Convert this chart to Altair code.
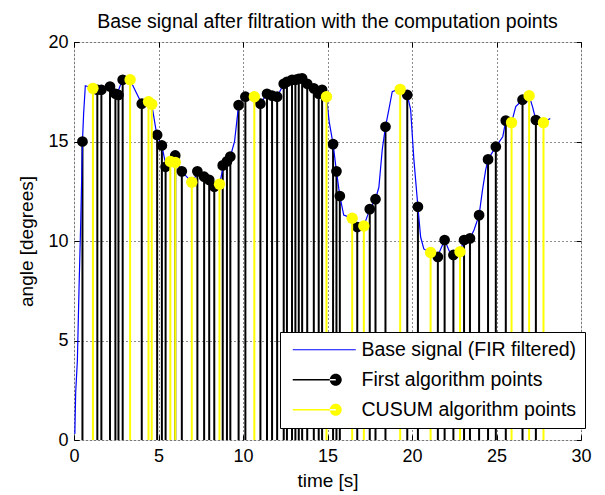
import altair as alt
import pandas as pd

# ---------------- data ----------------
base_t = [0.05, 0.1, 0.2, 0.3, 0.4, 0.5, 0.57, 0.67, 1.15, 1.54, 2.13, 2.53, 2.86, 3.32, 3.6,
          4.01, 4.41, 4.6, 4.9, 5.2, 5.45, 5.7, 5.99, 6.38, 6.97, 7.37, 7.77, 8.06, 8.36, 8.61,
          8.85, 9.25, 9.5, 9.74, 10.14, 10.67, 11.03, 11.42, 12.02, 12.41, 12.9, 13.4, 13.8,
          14.19, 14.68, 14.94, 15.1, 15.33, 15.53, 15.73, 15.96, 16.46, 16.76, 17.15, 17.5,
          17.84, 18.04, 18.24, 18.43, 18.63, 18.83, 19.26, 19.72, 19.92, 20.11, 20.35, 20.51,
          20.7, 21.1, 21.5, 21.93, 22.2, 22.45, 22.84, 23.08, 23.43, 23.67, 23.97, 24.17, 24.36,
          24.5, 24.96, 25.37, 25.55, 25.89, 26.14, 26.54, 26.93, 27.13, 27.33, 27.78, 28.18]
base_v = [0.3, 2.4, 4.0, 7.7, 11.0, 15.0, 16.4, 17.8, 17.67, 17.6, 17.76, 17.34, 18.1, 18.1, 17.6,
          16.9, 17.0, 16.87, 15.33, 14.8, 13.73, 14.0, 14.2, 13.5, 12.95, 13.5, 13.23, 13.07, 12.73, 12.85,
          13.8, 14.24, 15.0, 16.83, 17.25, 17.25, 16.9, 17.4, 17.25, 17.9, 18.1, 18.17, 17.9,
          17.67, 17.6, 17.25, 16.0, 14.87, 13.5, 12.26, 11.3, 11.14, 10.7, 10.75, 11.6,
          12.1, 12.7, 14.6, 15.74, 16.6, 17.5, 17.65, 17.34, 16.6, 14.1, 11.72, 10.2,
          9.6, 9.4, 9.2, 10.05, 9.5, 9.3, 9.46, 10.05, 10.13, 10.55, 11.3, 12.56, 13.57,
          14.1, 14.74, 15.24, 16.05, 15.95, 16.75, 17.1, 17.3, 16.75, 16.08, 15.95, 16.16]

first_t = [0.5, 1.38, 1.62, 2.13, 2.45, 2.63, 2.88, 4.01, 4.92, 5.2, 5.42, 5.99, 6.38, 7.3, 7.7,
           8.0, 8.3, 8.8, 9.05, 9.25, 9.74, 10.14, 11.03, 11.42, 11.72, 12.02, 12.41, 12.6, 12.9,
           13.1, 13.3, 13.5, 13.8, 14.19, 14.48, 14.68, 15.33, 15.53, 15.73, 16.76, 17.5, 17.84,
           18.43, 19.72, 20.35, 21.53, 21.93, 22.45, 23.08, 23.43, 23.97, 24.5, 24.96, 25.55,
           26.54, 27.33]
first_v = [15.0, 17.6, 17.6, 17.76, 17.4, 17.34, 18.1, 16.9, 15.33, 14.8, 13.73, 14.3, 13.5, 13.5, 13.23,
           13.07, 12.73, 13.8, 14.0, 14.24, 16.83, 17.25, 16.9, 17.4, 17.3, 17.25, 17.9, 18.0, 18.1,
           18.1, 18.15, 18.17, 17.9, 17.67, 17.4, 17.6, 14.87, 13.5, 12.26, 10.7, 11.6, 12.1,
           15.74, 17.34, 11.72, 9.2, 10.05, 9.3, 10.05, 10.13, 11.3, 14.1, 14.74, 16.05,
           17.1, 16.08]

cusum_t = [1.12, 3.32, 4.41, 4.6, 5.7, 5.99, 6.97, 8.61, 10.67, 14.94, 16.46, 17.15, 19.3,
           21.1, 22.84, 25.89, 26.93, 27.78]
cusum_v = [17.67, 18.1, 17.0, 16.87, 14.0, 13.95, 12.95, 12.85, 17.25, 17.25, 11.14, 10.75, 17.62,
           9.42, 9.46, 15.95, 17.3, 15.95]

series_names = ["Base signal (FIR filtered)", "First algorithm points", "CUSUM algorithm points"]
series_colors = ["#0000ff", "#000000", "#ffff00"]
x_ticks = [0, 5, 10, 15, 20, 25, 30]
y_ticks = [0, 5, 10, 15, 20]

FONT = "Liberation Sans"

base_df = pd.DataFrame({"t": base_t, "v": base_v, "series": series_names[0]})
first_df = pd.DataFrame({"t": first_t, "v": first_v, "series": series_names[1]})
cusum_df = pd.DataFrame({"t": cusum_t, "v": cusum_v, "series": series_names[2]})
# one (invisible) point of each series, used only to carry the legend glyphs
legend_df = pd.concat([base_df.head(1), first_df.head(1), cusum_df.head(1)], ignore_index=True)

x_scale = alt.Scale(domain=[0, 30], nice=False, zero=False)
y_scale = alt.Scale(domain=[0, 20], nice=False, zero=False)

# legend glyphs (unit path coordinates, scaled by sqrt(symbolSize)/2)
line_path = "M -1 -0.12 L 11.6 -0.12 L 11.6 0.12 L -1 0.12 Z"
dot_path = ("M -1 -0.15 L 7.6 -0.15 L 7.6 0.15 L -1 0.15 Z "
            "M 6.4 0 A 1.2 1.2 0 1 0 8.8 0 A 1.2 1.2 0 1 0 6.4 0 Z")

legend = alt.Legend(
    title=None, orient="none", legendX=206, legendY=290,
    fillColor="white", strokeColor="black", padding=8,
    labelFont=FONT, labelFontSize=19.5, labelColor="black", labelOffset=54,
    rowPadding=9, symbolSize=100, symbolStrokeWidth=0, symbolOpacity=1,
    labelLimit=400,
)
color = alt.Color("series:N", scale=alt.Scale(domain=series_names, range=series_colors), legend=legend)
shape_leg = alt.Shape("series:N", scale=alt.Scale(domain=series_names, range=[line_path, dot_path, dot_path]),
                      legend=legend)

x_main = alt.Axis(orient="bottom", values=x_ticks, format="d", grid=True, gridDash=[1, 3],
                  gridColor="black", gridOpacity=0.9, offset=-5, tickSize=5, tickColor="black",
                  domain=False, labelPadding=7, labelFont=FONT, labelFontSize=18, labelColor="black",
                  title="time [s]", titleFont=FONT, titleFontSize=19, titleFontWeight="normal",
                  titleColor="black", titlePadding=6, labelFlush=False)
y_main = alt.Axis(orient="left", values=y_ticks, format="d", grid=True, gridDash=[1, 3],
                  gridColor="black", gridOpacity=0.9, offset=-5, tickSize=5, tickColor="black",
                  domain=False, labelPadding=6, labelFont=FONT, labelFontSize=18, labelColor="black",
                  title="angle [degrees]", titleFont=FONT, titleFontSize=19, titleFontWeight="normal",
                  titleColor="black", titlePadding=11, labelFlush=False)
x_top = alt.Axis(orient="top", values=x_ticks, grid=False, labels=False, title=None, offset=-5,
                 tickSize=5, tickColor="black", domain=False)
y_right = alt.Axis(orient="right", values=y_ticks, grid=False, labels=False, title=None, offset=-5,
                   tickSize=5, tickColor="black", domain=False)

legend_layer = alt.Chart(legend_df).mark_point(filled=True, opacity=0).encode(
    x=alt.X("t:Q", scale=x_scale, axis=None),
    y=alt.Y("v:Q", scale=y_scale, axis=None),
    color=color,
    shape=shape_leg,
)
line = alt.Chart(base_df).mark_line(strokeWidth=1.2).encode(
    x=alt.X("t:Q", scale=x_scale, axis=x_main),
    y=alt.Y("v:Q", scale=y_scale, axis=y_main),
    color=color,
)
first_stems = alt.Chart(first_df).mark_rule(strokeWidth=2).encode(
    x=alt.X("t:Q", scale=x_scale, axis=x_top),
    y=alt.Y("v:Q", scale=y_scale, axis=y_right),
    y2=alt.Y2Datum(0),
    color=color,
)
first_dots = alt.Chart(first_df).mark_circle(size=115, opacity=1).encode(
    x=alt.X("t:Q", scale=x_scale, axis=None),
    y=alt.Y("v:Q", scale=y_scale, axis=None),
    color=color,
)
cusum_stems = alt.Chart(cusum_df).mark_rule(strokeWidth=2).encode(
    x=alt.X("t:Q", scale=x_scale, axis=None),
    y=alt.Y("v:Q", scale=y_scale, axis=None),
    y2=alt.Y2Datum(0),
    color=color,
)
cusum_dots = alt.Chart(cusum_df).mark_circle(size=130, opacity=1).encode(
    x=alt.X("t:Q", scale=x_scale, axis=None),
    y=alt.Y("v:Q", scale=y_scale, axis=None),
    color=color,
)

chart = alt.layer(legend_layer, first_stems, line, first_dots, cusum_stems, cusum_dots).resolve_axis(
    x="independent", y="independent"
).properties(
    width=507, height=398,
    title=alt.TitleParams("Base signal after filtration with the computation points",
                          font=FONT, fontSize=19.5, fontWeight="normal", color="black", offset=1),
    autosize=alt.AutoSizeParams(type="none"),
    padding={"left": 66, "top": 34, "right": 16, "bottom": 55},
).configure_view(stroke="black", strokeWidth=1).configure(background="white")

chart.save("out.html", embed_options={"renderer": "svg", "actions": False})
